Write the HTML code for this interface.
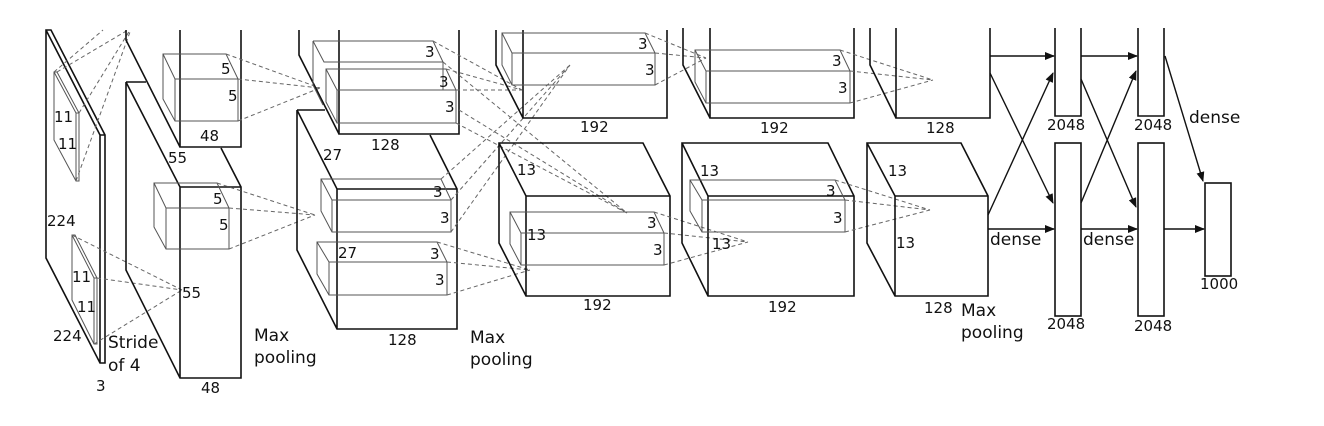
<!DOCTYPE html>
<html><head><meta charset="utf-8"><style>
html,body{margin:0;padding:0;background:#fff;}
svg{display:block;}
text{font-family:"DejaVu Sans","Liberation Sans",sans-serif;font-size:15px;fill:#111;}
.b{fill:none;stroke:#111;stroke-width:1.6;}
.t{fill:none;stroke:#555;stroke-width:1;}
.d{fill:none;stroke:#666;stroke-width:1;stroke-dasharray:4,3;}
.a{stroke:#111;stroke-width:1.4;fill:none;marker-end:url(#ar);}
.big{font-size:17px;}
</style></head><body>
<svg width="1324" height="426" viewBox="0 0 1324 426" xmlns="http://www.w3.org/2000/svg">
<defs><marker id="ar" markerWidth="10" markerHeight="8" refX="9" refY="4" orient="auto" markerUnits="userSpaceOnUse"><path d="M0,0 L10,4 L0,8 z" fill="#111"/></marker></defs>
<rect width="1324" height="426" fill="#fff"/>

<!-- input -->
<path class="b" d="M46,30 L46,258 L100,363 L105,363 L105,135 L51,30 Z M46,30 L100,135 L100,363 M100,135 L105,135"/>
<path class="t" d="M54,72 L54,140 L76,181 L79,181 L79,113 L57,72 Z M54,72 L76,113 L76,181 M76,113 L79,113"/>
<path class="t" d="M72,235 L72,300 L94,344 L97,344 L97,278 L75,235 Z M72,235 L94,278 L94,344 M94,278 L97,278"/>
<text x="54" y="122">11</text><text x="58" y="149">11</text>
<text x="47" y="226">224</text><text x="72" y="282">11</text><text x="77" y="312">11</text>
<text x="53" y="341">224</text><text x="96" y="391">3</text>
<text x="108" y="348" class="big">Stride</text><text x="108" y="371" class="big">of 4</text>
<path class="d" d="M54,72 L103,30 M79,113 L130,30 M57,72 L128,30 M76,181 L130,32 M72,235 L182,290 M97,278 L182,290 M94,344 L182,290"/>

<!-- layer1 -->
<path class="b" d="M126,30 L126,40 L180,147 M180,30 L180,147 L241,147 L241,30"/>
<path class="b" d="M126,82 L126,270 L180,378 L241,378 L241,187 L221,148 M126,82 L146,82 M126,82 L180,187 L241,187 M180,187 L180,378"/>
<path class="t" d="M163,54 L226,54 L238,79 L238,121 L175,121 L163,99 Z M163,54 L175,79 L238,79 M175,79 L175,121"/>
<path class="t" d="M154,183 L217,183 L229,208 L229,249 L166,249 L154,227 Z M154,183 L166,208 L229,208 M166,208 L166,249"/>
<text x="221" y="74">5</text><text x="228" y="101">5</text>
<text x="213" y="204">5</text><text x="219" y="230">5</text>
<text x="200" y="141">48</text><text x="168" y="163">55</text>
<text x="182" y="298">55</text><text x="201" y="393">48</text>
<text x="254" y="341" class="big">Max</text><text x="254" y="363" class="big">pooling</text>
<path class="d" d="M226,54 L320,88 M238,79 L320,88 M238,121 L320,88 M217,183 L315,215 M229,208 L315,215 M229,249 L315,215"/>

<!-- layer2 -->
<path class="b" d="M299,30 L299,55 L339,134 M339,30 L339,134 L459,134 L459,30"/>
<path class="b" d="M297,110 L297,250 L337,329 L457,329 L457,189 L430,135 M297,110 L325,110 M297,110 L337,189 L457,189 M337,189 L337,329"/>
<path class="t" d="M313,41 L433,41 L443,62 L443,90 M313,41 L313,85 L323,105 M313,41 L324,62 L443,62"/>
<path class="t" d="M326,69 L446,69 L456,90 L456,123 L337,123 L326,102 Z M326,69 L337,90 L456,90 M337,90 L337,123"/>
<path class="t" d="M321,179 L441,179 L451,200 L451,232 L332,232 L321,211 Z M321,179 L332,200 L451,200 M332,200 L332,232"/>
<path class="t" d="M317,242 L437,242 L447,262 L447,295 L329,295 L317,274 Z M317,242 L329,262 L447,262 M329,262 L329,295"/>
<text x="425" y="57">3</text><text x="439" y="87">3</text><text x="445" y="112">3</text>
<text x="371" y="150">128</text><text x="323" y="160">27</text>
<text x="433" y="197">3</text><text x="440" y="223">3</text>
<text x="338" y="258">27</text><text x="430" y="259">3</text><text x="435" y="285">3</text>
<text x="388" y="345">128</text>
<text x="470" y="343" class="big">Max</text><text x="470" y="365" class="big">pooling</text>
<path class="d" d="M433,41 L522,90 M446,69 L522,90 M456,90 L522,90 M456,123 L627,213 M443,62 L627,213 M451,200 L570,65 M441,179 L570,65 M451,232 L570,65 M437,242 L530,270 M447,262 L530,270 M447,295 L530,270 M459,110 L627,213"/>

<!-- layer3 -->
<path class="b" d="M496,30 L496,65 L523,118 M523,30 L523,118 L667,118 L667,30"/>
<path class="b" d="M499,143 L499,243 L526,296 L670,296 L670,196 L643,143 Z M499,143 L526,196 L670,196 M526,196 L526,296"/>
<path class="t" d="M502,33 L645,33 L655,53 L655,85 L512,85 L502,65 Z M502,33 L512,53 L655,53 M512,53 L512,85"/>
<path class="t" d="M510,212 L654,212 L664,233 L664,265 L521,265 L510,244 Z M510,212 L521,233 L664,233 M521,233 L521,265"/>
<text x="638" y="49">3</text><text x="645" y="75">3</text>
<text x="580" y="132">192</text>
<text x="517" y="175">13</text><text x="527" y="240">13</text>
<text x="647" y="228">3</text><text x="653" y="255">3</text>
<text x="583" y="310">192</text>
<path class="d" d="M645,33 L706,58 M655,53 L706,58 M655,85 L706,58 M654,212 L748,242 M664,233 L748,242 M664,265 L748,242"/>

<!-- layer4 -->
<path class="b" d="M683,28 L683,65 L710,118 M710,28 L710,118 L854,118 L854,28"/>
<path class="b" d="M682,143 L682,243 L708,296 L854,296 L854,196 L828,143 Z M682,143 L708,196 L854,196 M708,196 L708,296"/>
<path class="t" d="M695,50 L840,50 L850,71 L850,103 L706,103 L695,82 Z M695,50 L706,71 L850,71 M706,71 L706,103"/>
<path class="t" d="M690,180 L835,180 L845,200 L845,232 L702,232 L690,211 Z M690,180 L702,200 L845,200 M702,200 L702,232"/>
<text x="832" y="66">3</text><text x="838" y="93">3</text>
<text x="760" y="133">192</text>
<text x="700" y="176">13</text><text x="712" y="249">13</text>
<text x="826" y="196">3</text><text x="833" y="223">3</text>
<text x="768" y="312">192</text>
<path class="d" d="M840,50 L933,80 M850,71 L933,80 M850,103 L933,80 M835,180 L930,210 M845,200 L930,210 M845,232 L930,210"/>

<!-- layer5 -->
<path class="b" d="M870,28 L870,65 L896,118 M896,28 L896,118 L990,118 L990,28"/>
<path class="b" d="M867,143 L867,243 L895,296 L988,296 L988,196 L961,143 Z M867,143 L895,196 L988,196 M895,196 L895,296"/>
<text x="926" y="133">128</text>
<text x="888" y="176">13</text><text x="896" y="248">13</text>
<text x="924" y="313">128</text>
<text x="961" y="316" class="big">Max</text><text x="961" y="338" class="big">pooling</text>

<!-- dense -->
<path class="b" d="M1055,28 L1055,116 L1081,116 L1081,28"/>
<rect class="b" x="1055" y="143" width="26" height="173"/>
<path class="b" d="M1138,28 L1138,116 L1164,116 L1164,28"/>
<rect class="b" x="1138" y="143" width="26" height="173"/>
<rect class="b" x="1205" y="183" width="26" height="93"/>
<text x="1047" y="130">2048</text><text x="1047" y="329">2048</text>
<text x="1134" y="130">2048</text><text x="1134" y="331">2048</text>
<text x="1200" y="289">1000</text>
<text x="990" y="245" class="big">dense</text><text x="1083" y="245" class="big">dense</text>
<text x="1189" y="123" class="big">dense</text>
<line class="a" x1="990" y1="56" x2="1054" y2="56"/>
<line class="a" x1="990" y1="73" x2="1053" y2="203"/>
<line class="a" x1="988" y1="215" x2="1053" y2="73"/>
<line class="a" x1="988" y1="229" x2="1054" y2="229"/>
<line class="a" x1="1081" y1="56" x2="1137" y2="56"/>
<line class="a" x1="1081" y1="79" x2="1136" y2="207"/>
<line class="a" x1="1081" y1="203" x2="1136" y2="71"/>
<line class="a" x1="1081" y1="229" x2="1137" y2="229"/>
<line class="a" x1="1165" y1="56" x2="1203" y2="181"/>
<line class="a" x1="1164" y1="229" x2="1204" y2="229"/>
</svg>
</body></html>
